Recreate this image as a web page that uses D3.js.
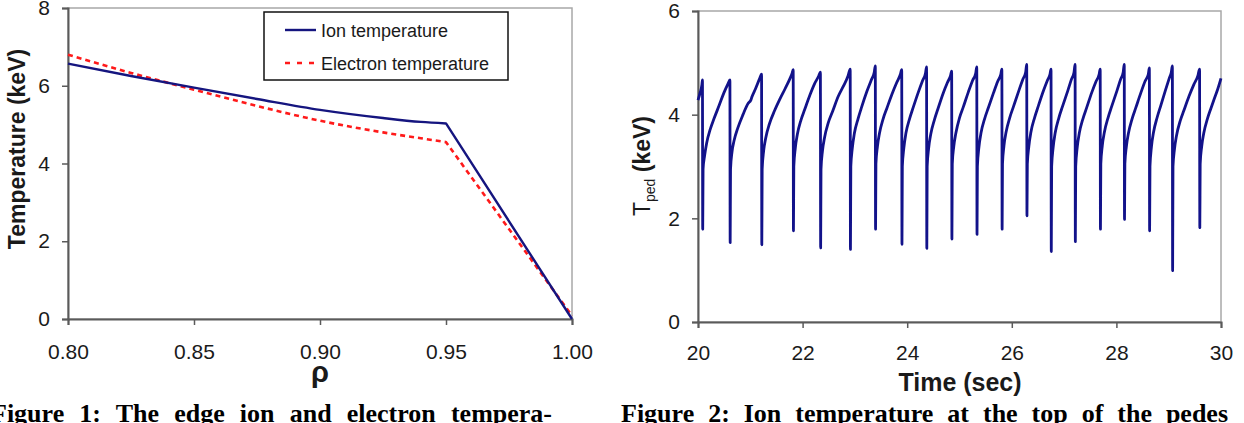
<!DOCTYPE html>
<html>
<head>
<meta charset="utf-8">
<script src="https://d3js.org/d3.v7.min.js"></script>
<style>
  body { margin: 0; background: #fff; }
  svg text { font-family: Arial, "Liberation Sans", sans-serif; fill: #1a1a1a; }
  svg text.caption { font-family: "Liberation Serif", "Times New Roman", serif; font-weight: bold; fill: #000; }
</style>
</head>
<body>
<div id="chart"></div>
<script>
// ---- Figure 1: edge temperature profiles
var rho      = [0.80, 0.825, 0.85, 0.875, 0.90, 0.925, 0.94, 0.95, 1.00];
var ionTemp  = [6.57, 6.25, 5.95, 5.66, 5.38, 5.17, 5.07, 5.03, 0.00];
var elecTemp = [6.80, 6.33, 5.90, 5.48, 5.10, 4.80, 4.65, 4.55, 0.08];
var rhoTicks  = [0.80, 0.85, 0.90, 0.95, 1.00];
var tempTicks = [0, 2, 4, 6, 8];
var legendNames = ["Ion temperature", "Electron temperature"];

// ---- Figure 2: pedestal ion temperature vs time (one row per ELM cycle)
var timeSec = [
  20.000, 20.040, 20.075, 20.085,
  20.090, 20.097, 20.125, 20.165, 20.235, 20.305, 20.405, 20.495, 20.575, 20.610,
  20.615, 20.622, 20.650, 20.690, 20.760, 20.860, 20.960, 21.010, 21.030, 21.100, 21.180, 21.215,
  21.220, 21.227, 21.255, 21.295, 21.365, 21.465, 21.565, 21.665, 21.760, 21.800, 21.820,
  21.825, 21.832, 21.860, 21.900, 21.970, 22.040, 22.140, 22.230, 22.310, 22.340,
  22.345, 22.352, 22.380, 22.420, 22.490, 22.580, 22.680, 22.780, 22.870, 22.910,
  22.915, 22.922, 22.950, 22.990, 23.060, 23.130, 23.230, 23.310, 23.370, 23.390,
  23.395, 23.402, 23.430, 23.470, 23.540, 23.610, 23.710, 23.800, 23.870, 23.895,
  23.900, 23.907, 23.935, 23.975, 24.045, 24.115, 24.215, 24.295, 24.350, 24.370,
  24.375, 24.382, 24.410, 24.450, 24.520, 24.590, 24.690, 24.770, 24.830, 24.850,
  24.855, 24.862, 24.890, 24.930, 25.000, 25.070, 25.170, 25.250, 25.310, 25.330,
  25.335, 25.342, 25.370, 25.410, 25.480, 25.550, 25.650, 25.730, 25.790, 25.810,
  25.815, 25.822, 25.850, 25.890, 25.960, 26.030, 26.130, 26.210, 26.265, 26.285,
  26.290, 26.297, 26.325, 26.365, 26.435, 26.505, 26.605, 26.680, 26.730, 26.750,
  26.755, 26.762, 26.790, 26.830, 26.900, 26.970, 27.070, 27.140, 27.190, 27.210,
  27.215, 27.222, 27.250, 27.290, 27.360, 27.430, 27.530, 27.610, 27.670, 27.690,
  27.695, 27.702, 27.730, 27.770, 27.840, 27.910, 28.010, 28.080, 28.130, 28.150,
  28.155, 28.162, 28.190, 28.230, 28.300, 28.370, 28.470, 28.550, 28.610, 28.630,
  28.635, 28.642, 28.670, 28.710, 28.780, 28.850, 28.940, 29.010, 29.050, 29.070,
  29.075, 29.082, 29.110, 29.150, 29.220, 29.290, 29.390, 29.480, 29.560, 29.590,
  29.595, 29.602, 29.630, 29.670, 29.740, 29.800, 29.880, 29.940, 30.000
];
var tpedKeV = [
  4.28, 4.42, 4.58, 4.67,
  1.79, 2.95, 3.20, 3.45, 3.72, 3.92, 4.18, 4.42, 4.60, 4.67,
  1.53, 2.95, 3.28, 3.50, 3.74, 4.00, 4.22, 4.28, 4.34, 4.50, 4.70, 4.78,
  1.49, 2.95, 3.30, 3.55, 3.82, 4.08, 4.30, 4.50, 4.70, 4.80, 4.87,
  1.76, 3.00, 3.35, 3.62, 3.90, 4.10, 4.38, 4.60, 4.75, 4.82,
  1.43, 2.95, 3.30, 3.56, 3.84, 4.08, 4.35, 4.55, 4.75, 4.88,
  1.40, 3.00, 3.35, 3.64, 3.92, 4.15, 4.45, 4.66, 4.82, 4.94,
  1.79, 3.05, 3.38, 3.64, 3.92, 4.12, 4.40, 4.62, 4.78, 4.87,
  1.50, 3.00, 3.35, 3.64, 3.92, 4.14, 4.44, 4.66, 4.80, 4.92,
  1.42, 3.00, 3.35, 3.62, 3.90, 4.12, 4.42, 4.62, 4.76, 4.84,
  1.60, 3.05, 3.38, 3.64, 3.94, 4.14, 4.44, 4.66, 4.80, 4.92,
  1.69, 3.00, 3.36, 3.64, 3.92, 4.13, 4.42, 4.64, 4.78, 4.88,
  1.79, 3.05, 3.40, 3.66, 3.94, 4.15, 4.45, 4.68, 4.82, 4.97,
  2.05, 3.05, 3.38, 3.66, 3.94, 4.16, 4.46, 4.66, 4.78, 4.88,
  1.36, 3.00, 3.36, 3.65, 3.94, 4.16, 4.46, 4.68, 4.82, 4.97,
  1.55, 3.00, 3.36, 3.64, 3.92, 4.13, 4.43, 4.64, 4.78, 4.88,
  1.79, 3.05, 3.40, 3.66, 3.94, 4.16, 4.46, 4.68, 4.82, 4.97,
  1.98, 3.05, 3.38, 3.64, 3.92, 4.13, 4.43, 4.65, 4.78, 4.90,
  1.76, 3.00, 3.38, 3.66, 3.95, 4.18, 4.48, 4.70, 4.82, 4.94,
  0.99, 3.00, 3.33, 3.60, 3.88, 4.08, 4.36, 4.58, 4.76, 4.88,
  1.82, 3.05, 3.38, 3.64, 3.92, 4.10, 4.33, 4.50, 4.70
];
var timeTicks = [20, 22, 24, 26, 28, 30];
var tpedTicks = [0, 2, 4, 6];

var captions = [
  "Figure 1: The edge ion and electron tempera-",
  "Figure 2: Ion temperature at the top of the pedes"
];

var width = 1244, height = 423;
var svg = d3.select("#chart").append("svg")
    .attr("width", width)
    .attr("height", height);

// common frame + axes drawing, Excel style
function drawFrame(x, y, xt, yt, xfmt, xPad) {
  var g = svg.append("g");
  g.append("rect")
    .attr("x", x.range()[0]).attr("y", y.range()[1])
    .attr("width", x.range()[1] - x.range()[0])
    .attr("height", y.range()[0] - y.range()[1])
    .attr("fill", "none").attr("stroke", "#a8a8a8").attr("stroke-width", 1.5);

  var ax = g.append("g")
    .attr("transform", "translate(0," + y.range()[0] + ")")
    .call(d3.axisBottom(x).tickValues(xt).tickFormat(xfmt).tickSize(6).tickPadding(xPad));
  var ay = g.append("g")
    .attr("transform", "translate(" + x.range()[0] + ",0)")
    .call(d3.axisLeft(y).tickValues(yt).tickFormat(d3.format("d")).tickSize(6).tickPadding(12));
  [ax, ay].forEach(function(a) {
    a.select(".domain").attr("stroke", "#5a5a5a").attr("stroke-width", 2);
    a.selectAll(".tick line").attr("stroke", "#5a5a5a").attr("stroke-width", 1.5);
    a.selectAll(".tick text").attr("font-size", 21).attr("fill", "#1a1a1a")
      .style("font-family", "Arial, 'Liberation Sans', sans-serif");
  });
  return g;
}

// ---------- left chart
var x1 = d3.scaleLinear().domain([0.80, 1.00]).range([68, 572]);
var y1 = d3.scaleLinear().domain([0, 8]).range([319, 8]);
drawFrame(x1, y1, rhoTicks, tempTicks, d3.format(".2f"), 19);

// smooth up to the pedestal knee, then a straight drop to the edge
var smooth1 = d3.line().x(function(d) { return x1(d[0]); }).y(function(d) { return y1(d[1]); })
  .curve(d3.curveMonotoneX);
function profilePath(vals) {
  var pts = d3.zip(rho, vals);
  var last = pts[pts.length - 1];
  return smooth1(pts.slice(0, -1)) + "L" + x1(last[0]) + "," + y1(last[1]);
}

svg.append("path")
  .attr("d", profilePath(elecTemp))
  .attr("fill", "none").attr("stroke", "#ff1a1a").attr("stroke-width", 2.6)
  .attr("stroke-dasharray", "5,4");
svg.append("path")
  .attr("d", profilePath(ionTemp))
  .attr("fill", "none").attr("stroke", "#15157f").attr("stroke-width", 2.4)
  .attr("stroke-linejoin", "round");

svg.append("text")
  .attr("transform", "translate(25,149) rotate(-90)")
  .attr("text-anchor", "middle")
  .attr("font-size", 23).attr("font-weight", "bold")
  .text("Temperature (keV)");
svg.append("text")
  .attr("x", 320).attr("y", 382)
  .attr("text-anchor", "middle")
  .attr("font-size", 29).attr("font-weight", "bold")
  .text("ρ");

// legend
var leg = svg.append("g");
leg.append("rect").attr("x", 264).attr("y", 12).attr("width", 244).attr("height", 68)
  .attr("fill", "#fff").attr("stroke", "#111").attr("stroke-width", 1.5);
leg.append("line").attr("x1", 285).attr("x2", 316).attr("y1", 30).attr("y2", 30)
  .attr("stroke", "#15157f").attr("stroke-width", 2.4);
leg.append("line").attr("x1", 285).attr("x2", 318).attr("y1", 63).attr("y2", 63)
  .attr("stroke", "#ff1a1a").attr("stroke-width", 2.6).attr("stroke-dasharray", "5,7");
leg.selectAll("text.lg").data(legendNames).join("text")
  .attr("class", "lg")
  .attr("x", 321).attr("y", function(d, i) { return i === 0 ? 36.5 : 70; })
  .attr("font-size", 18)
  .text(function(d) { return d; });

// ---------- right chart
var x2 = d3.scaleLinear().domain([20, 30]).range([698, 1221]);
var y2 = d3.scaleLinear().domain([0, 6]).range([322, 11]);
drawFrame(x2, y2, timeTicks, tpedTicks, d3.format("d"), 17);

var line2 = d3.line()
  .x(function(d) { return x2(d[0]); })
  .y(function(d) { return y2(d[1]); })
  .curve(d3.curveMonotoneX);

svg.append("path")
  .datum(d3.zip(timeSec, tpedKeV))
  .attr("d", line2)
  .attr("fill", "none").attr("stroke", "#12128a").attr("stroke-width", 2.8)
  .attr("stroke-linejoin", "round");

var yt2 = svg.append("text")
  .attr("transform", "translate(650,166) rotate(-90)")
  .attr("text-anchor", "middle")
  .attr("font-size", 23);
yt2.append("tspan").text("T");
yt2.append("tspan").attr("font-size", 14).attr("dy", 5).text("ped");
yt2.append("tspan").attr("font-weight", "bold").attr("dy", -5).text(" (keV)");

svg.append("text")
  .attr("x", 960).attr("y", 391)
  .attr("text-anchor", "middle")
  .attr("font-size", 25).attr("font-weight", "bold")
  .text("Time (sec)");

// ---------- captions (justified lines)
var capPos = [[-9, 552], [621, 1228]];
captions.forEach(function(c, i) {
  var t = svg.append("text")
    .attr("class", "caption")
    .attr("x", capPos[i][0]).attr("y", 422)
    .attr("font-size", 26)
    .text(c);
  var w = t.node().getComputedTextLength();
  var gaps = c.split(" ").length - 1;
  var target = capPos[i][1] - capPos[i][0];
  t.attr("word-spacing", Math.max(0, (target - w) / gaps));
});
</script>
</body>
</html>
